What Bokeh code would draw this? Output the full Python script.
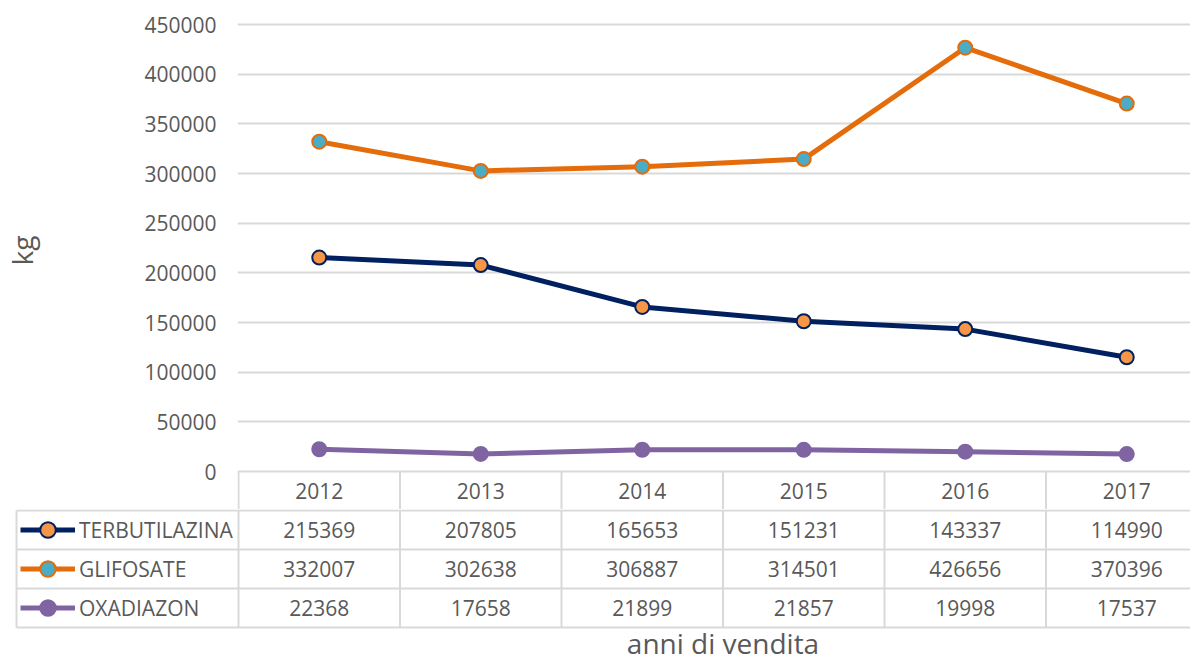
from bokeh.plotting import figure
from bokeh.models import Range1d, FixedTicker, NumeralTickFormatter, Legend, LegendItem
from bokeh.layouts import column
from bokeh.core.properties import value
from bokeh.embed import file_html
from bokeh.resources import INLINE

# ---- data ----
years = ["2012", "2013", "2014", "2015", "2016", "2017"]
series_names = ["TERBUTILAZINA", "GLIFOSATE", "OXADIAZON"]
terbutilazina = [215369, 207805, 165653, 151231, 143337, 114990]
glifosate = [332007, 302638, 306887, 314501, 426656, 370396]
oxadiazon = [22368, 17658, 21899, 21857, 19998, 17537]
y_ticks = [0, 50000, 100000, 150000, 200000, 250000, 300000, 350000, 400000, 450000]
y_label = "kg"
x_title = "anni di vendita"

# ---- styles ----
FONT = "Open Sans"
TXT = "#595959"
GRID = "#d9d9d9"
styles = [
    dict(line="#002060", fill="#F79646", outline="#002060"),
    dict(line="#E46C0A", fill="#4BACC6", outline="#E46C0A"),
    dict(line="#8064A2", fill="#8064A2", outline="#8064A2"),
]
values = [terbutilazina, glifosate, oxadiazon]

W, H = 1190, 662
COL = 161.5                 # px per category column
PLOT_LEFT = 238             # page x of first column boundary
TABLE_LEFT = 16             # page x of the legend column's left edge
FRAME_TOP = 20
SPLIT = 509                 # page y where upper figure ends
U = 450000 / 447            # data units per pixel (vertical)
ZERO_PX = 471               # page y of value 0
row_bounds = [471, 510, 549, 588, 627]


def xd(px):
    return (px - PLOT_LEFT) / COL


def yd(py):
    return (ZERO_PX - py) * U


xs = [i + 0.5 for i in range(len(years))]
col_edges = [float(i) for i in range(len(years) + 1)]

# ================= upper figure: chart + table header =================
p = figure(width=W, height=SPLIT,
           x_range=Range1d(xd(PLOT_LEFT - 1), xd(W)), y_range=Range1d(yd(SPLIT), yd(FRAME_TOP)),
           output_backend="svg", toolbar_location=None, x_axis_location=None,
           min_border_left=PLOT_LEFT - 1, min_border_right=0, min_border_top=FRAME_TOP,
           min_border_bottom=0, frame_align=False)
p.outline_line_color = None
p.xgrid.visible = False
p.yaxis.ticker = FixedTicker(ticks=y_ticks)
p.yaxis.formatter = NumeralTickFormatter(format="0")
p.yaxis.axis_line_color = None
p.yaxis.major_tick_line_color = None
p.yaxis.minor_tick_line_color = None
p.yaxis.major_label_text_font = FONT
p.yaxis.major_label_text_font_size = "21px"
p.yaxis.major_label_text_color = TXT
p.yaxis.major_label_standoff = 15
# non-breaking spaces lift the label to the centre of the value area (frame also holds the header row)
p.yaxis.axis_label = "\u00a0" * 4 + y_label
p.yaxis.axis_label_text_font = FONT
p.yaxis.axis_label_text_font_size = "28px"
p.yaxis.axis_label_text_font_style = "normal"
p.yaxis.axis_label_text_color = TXT
p.yaxis.axis_label_standoff = 100
p.ygrid.grid_line_color = GRID
p.ygrid.grid_line_width = 2

# header row vertical borders and years
p.segment(x0=col_edges, y0=[yd(row_bounds[0])] * len(col_edges), x1=col_edges,
          y1=[yd(SPLIT)] * len(col_edges), line_color=GRID, line_width=2)
p.text(x=xs, y=[yd((row_bounds[0] + row_bounds[1]) / 2)] * len(xs), text=years,
       text_font=value(FONT), text_font_size="21px", text_color=TXT,
       text_align="center", text_baseline="middle")

for vals, st in zip(values, styles):
    p.line(xs, vals, line_color=st["line"], line_width=5)
    p.scatter(xs, vals, size=14, fill_color=st["fill"], line_color=st["outline"], line_width=2)

# ================= lower figure: table body + legend keys + title =================
H2 = H - SPLIT
q = figure(width=W, height=H2,
           x_range=Range1d(xd(TABLE_LEFT - 2), xd(W)), y_range=Range1d(yd(H), yd(SPLIT)),
           output_backend="svg", toolbar_location=None, x_axis_location=None,
           y_axis_location=None, min_border_left=TABLE_LEFT - 2, min_border_right=0,
           min_border_top=0, min_border_bottom=0, frame_align=False)
q.outline_line_color = None
q.grid.visible = False

hy = [yd(b) for b in row_bounds[1:]]
q.segment(x0=[xd(TABLE_LEFT)] * len(hy), y0=hy, x1=[xd(W)] * len(hy), y1=hy,
          line_color=GRID, line_width=2)
vx = [xd(TABLE_LEFT)] + col_edges
q.segment(x0=vx, y0=[yd(row_bounds[1])] * len(vx), x1=vx, y1=[yd(row_bounds[-1])] * len(vx),
          line_color=GRID, line_width=2)

items = []
for i, (name, vals, st) in enumerate(zip(series_names, values, styles)):
    yc = yd((row_bounds[i + 1] + row_bounds[i + 2]) / 2)
    q.text(x=xs, y=[yc] * len(xs), text=[str(v) for v in vals], text_font=value(FONT),
           text_font_size="21px", text_color=TXT, text_align="center", text_baseline="middle")
    # key renderers: one point far outside the visible range, used only for the legend key
    kx, ky = [-100.0], [vals[0]]
    kl = q.line(x=kx, y=ky, line_color=st["line"], line_width=5)
    ks = q.scatter(x=kx, y=ky, size=14, fill_color=st["fill"], line_color=st["outline"], line_width=2)
    items.append(LegendItem(label=name, renderers=[kl, ks], index=0))

row_h = row_bounds[2] - row_bounds[1]
legend = Legend(items=items, location=(20 - (TABLE_LEFT - 2), H - row_bounds[-1]),
                orientation="vertical", glyph_width=55, glyph_height=row_h,
                label_height=row_h, label_standoff=4, spacing=0, padding=0, margin=0,
                label_text_font=FONT, label_text_font_size="21px", label_text_color=TXT,
                background_fill_alpha=0, border_line_color=None)
q.add_layout(legend)

q.text(x=[len(years) / 2], y=[yd(642)], text=[x_title], text_font=value(FONT),
       text_font_size="28px", text_color=TXT, text_align="center", text_baseline="middle")

layout = column(p, q, spacing=0)
open("out.html", "w").write(file_html(layout, INLINE))
